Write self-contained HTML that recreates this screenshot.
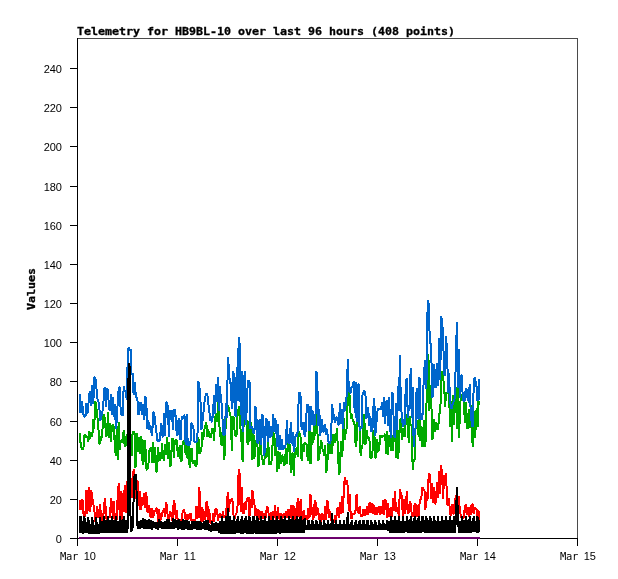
<!DOCTYPE html>
<html><head><meta charset="utf-8"><title>Telemetry for HB9BL-10</title>
<style>html,body{margin:0;padding:0;background:#fff;}body{width:618px;height:579px;overflow:hidden;}svg{display:block;}</style>
</head><body>
<svg width="618" height="579" viewBox="0 0 618 579">
<rect width="618" height="579" fill="#fff"/>
<g shape-rendering="crispEdges" stroke-width="1" fill="none">
<path d="M77.5 38.5H577.5V538" stroke="#4a4a4a"/>
<path d="M77.5 38V546M77 538.5H578" stroke="#000"/>
<path d="M70 538.5H77 M70 499.5H77 M70 460.5H77 M70 421.5H77 M70 381.5H77 M70 342.5H77 M70 303.5H77 M70 264.5H77 M70 225.5H77 M70 186.5H77 M70 146.5H77 M70 107.5H77 M70 68.5H77 M77.5 539V546 M177.5 539V546 M277.5 539V546 M377.5 539V546 M477.5 539V546 M577.5 539V546" stroke="#000"/>
</g>
<g fill="#000">
<text x="55.7" y="543" font-family="Liberation Sans, sans-serif" font-size="11">0</text>
<text x="49.7 55.7" y="504" font-family="Liberation Sans, sans-serif" font-size="11">20</text>
<text x="49.7 55.7" y="465" font-family="Liberation Sans, sans-serif" font-size="11">40</text>
<text x="49.7 55.7" y="426" font-family="Liberation Sans, sans-serif" font-size="11">60</text>
<text x="49.7 55.7" y="386" font-family="Liberation Sans, sans-serif" font-size="11">80</text>
<text x="43.7 49.7 55.7" y="347" font-family="Liberation Sans, sans-serif" font-size="11">100</text>
<text x="43.7 49.7 55.7" y="308" font-family="Liberation Sans, sans-serif" font-size="11">120</text>
<text x="43.7 49.7 55.7" y="269" font-family="Liberation Sans, sans-serif" font-size="11">140</text>
<text x="43.7 49.7 55.7" y="230" font-family="Liberation Sans, sans-serif" font-size="11">160</text>
<text x="43.7 49.7 55.7" y="191" font-family="Liberation Sans, sans-serif" font-size="11">180</text>
<text x="43.7 49.7 55.7" y="151" font-family="Liberation Sans, sans-serif" font-size="11">200</text>
<text x="43.7 49.7 55.7" y="112" font-family="Liberation Sans, sans-serif" font-size="11">220</text>
<text x="43.7 49.7 55.7" y="73" font-family="Liberation Sans, sans-serif" font-size="11">240</text>
<text y="560"><tspan x="60 66 72" font-family="DejaVu Sans Mono, monospace" font-size="10.5">Mar</tspan><tspan x="83.7 89.7" font-family="Liberation Sans, sans-serif" font-size="11">10</tspan></text>
<text y="560"><tspan x="160 166 172" font-family="DejaVu Sans Mono, monospace" font-size="10.5">Mar</tspan><tspan x="183.7 189.7" font-family="Liberation Sans, sans-serif" font-size="11">11</tspan></text>
<text y="560"><tspan x="260 266 272" font-family="DejaVu Sans Mono, monospace" font-size="10.5">Mar</tspan><tspan x="283.7 289.7" font-family="Liberation Sans, sans-serif" font-size="11">12</tspan></text>
<text y="560"><tspan x="360 366 372" font-family="DejaVu Sans Mono, monospace" font-size="10.5">Mar</tspan><tspan x="383.7 389.7" font-family="Liberation Sans, sans-serif" font-size="11">13</tspan></text>
<text y="560"><tspan x="460 466 472" font-family="DejaVu Sans Mono, monospace" font-size="10.5">Mar</tspan><tspan x="483.7 489.7" font-family="Liberation Sans, sans-serif" font-size="11">14</tspan></text>
<text y="560"><tspan x="560 566 572" font-family="DejaVu Sans Mono, monospace" font-size="10.5">Mar</tspan><tspan x="583.7 589.7" font-family="Liberation Sans, sans-serif" font-size="11">15</tspan></text>
</g>
<text x="77" y="35" font-family="DejaVu Sans Mono, Liberation Mono, monospace" font-weight="bold" font-size="10.5" stroke="#000" stroke-width="0.3" textLength="378" lengthAdjust="spacingAndGlyphs">Telemetry for HB9BL-10 over last 96 hours (408 points)</text>
<text transform="translate(35 310) rotate(-90)" x="0" y="0" font-family="DejaVu Sans Mono, Liberation Mono, monospace" font-weight="bold" font-size="10.5" stroke="#000" stroke-width="0.3" textLength="42" lengthAdjust="spacingAndGlyphs">Values</text>
<g fill="none" stroke-width="2" stroke-linejoin="bevel" shape-rendering="crispEdges">
<path d="M79 537.5H480" stroke="#720072" stroke-width="1"/><path d="M79 538.5H480" stroke="#660066" stroke-width="1"/>
<polyline points="79.5,432.6 80.5,442.4 81.5,448.1 82.4,449.6 83.4,448.5 84.4,435.0 85.4,435.2 86.4,437.9 87.4,436.9 88.3,442.3 89.3,431.2 90.3,438.8 91.3,432.2 92.3,436.9 93.3,419.2 94.2,428.7 95.2,401.0 96.2,405.1 97.2,416.0 98.2,423.3 99.2,443.5 100.1,443.8 101.1,436.9 102.1,437.1 103.1,417.4 104.1,414.0 105.1,421.1 106.0,436.4 107.0,435.5 108.0,411.6 109.0,437.7 110.0,422.8 110.9,441.8 111.9,425.6 112.9,424.5 113.9,427.6 114.9,448.3 115.9,455.5 116.8,425.6 117.8,459.6 118.8,422.0 119.8,449.8 120.8,440.5 121.8,440.0 122.7,443.2 123.7,429.6 124.7,446.7 125.7,445.2 126.7,433.8 127.7,443.8 128.6,425.0 129.6,445.1 130.6,433.8 131.6,456.4 132.6,433.3 133.6,431.3 134.5,433.0 135.5,467.7 136.5,432.6 137.5,447.6 138.5,451.4 139.5,437.3 140.4,453.6 141.4,435.8 142.4,460.9 143.4,464.6 144.4,439.9 145.3,443.4 146.3,468.4 147.3,470.0 148.3,466.8 149.3,450.2 150.3,448.9 151.2,446.9 152.2,463.2 153.2,441.8 154.2,462.6 155.2,446.8 156.2,472.0 157.1,471.4 158.1,447.1 159.1,459.1 160.1,460.1 161.1,457.4 162.1,443.5 163.0,457.4 164.0,460.8 165.0,444.0 166.0,454.9 167.0,436.6 168.0,458.6 168.9,442.5 169.9,466.6 170.9,465.3 171.9,440.0 172.9,437.9 173.8,457.8 174.8,440.0 175.8,440.5 176.8,440.0 177.8,454.8 178.8,457.1 179.7,444.8 180.7,461.5 181.7,460.0 182.7,442.0 183.7,440.8 184.7,442.4 185.6,454.6 186.6,445.6 187.6,459.0 188.6,442.5 189.6,467.6 190.6,460.9 191.5,448.3 192.5,460.8 193.5,463.3 194.5,460.5 195.5,465.8 196.5,465.9 197.4,440.1 198.4,437.3 199.4,454.0 200.4,452.6 201.4,449.3 202.4,432.5 203.3,439.4 204.3,429.7 205.3,426.1 206.3,421.8 207.3,436.5 208.2,429.4 209.2,436.1 210.2,437.9 211.2,435.9 212.2,428.3 213.2,428.9 214.1,440.8 215.1,418.8 216.1,413.0 217.1,422.1 218.1,400.0 219.1,424.5 220.0,430.8 221.0,443.9 222.0,446.0 223.0,418.9 224.0,459.8 225.0,452.5 225.9,411.6 226.9,402.8 227.9,406.2 228.9,408.2 229.9,414.0 230.9,417.0 231.8,451.0 232.8,416.6 233.8,417.1 234.8,435.0 235.8,436.5 236.7,434.9 237.7,411.9 238.7,408.2 239.7,406.0 240.7,434.5 241.7,444.2 242.6,461.5 243.6,424.4 244.6,415.0 245.6,415.2 246.6,421.0 247.6,445.2 248.5,421.4 249.5,441.7 250.5,421.8 251.5,430.5 252.5,459.8 253.5,434.4 254.4,458.8 255.4,440.9 256.4,440.1 257.4,444.5 258.4,466.7 259.4,457.6 260.3,439.0 261.3,454.3 262.3,458.5 263.3,465.0 264.3,463.4 265.2,444.5 266.2,456.8 267.2,456.4 268.2,439.0 269.2,465.2 270.2,462.6 271.1,464.3 272.1,455.7 273.1,431.5 274.1,434.4 275.1,456.1 276.1,437.7 277.0,471.5 278.0,451.3 279.0,469.4 280.0,452.1 281.0,463.7 282.0,454.8 282.9,456.5 283.9,466.0 284.9,463.6 285.9,447.9 286.9,463.8 287.9,444.0 288.8,441.8 289.8,445.7 290.8,472.6 291.8,453.6 292.8,453.0 293.8,476.4 294.7,453.2 295.7,452.0 296.7,447.5 297.7,457.2 298.7,431.5 299.6,433.0 300.6,437.3 301.6,460.8 302.6,444.0 303.6,452.3 304.6,441.9 305.5,444.8 306.5,443.4 307.5,456.6 308.5,460.6 309.5,429.7 310.5,464.3 311.4,446.4 312.4,432.5 313.4,442.6 314.4,421.3 315.4,435.6 316.4,412.5 317.3,426.0 318.3,460.8 319.3,455.0 320.3,448.2 321.3,439.9 322.3,448.8 323.2,450.5 324.2,455.6 325.2,444.7 326.2,472.9 327.2,467.9 328.1,444.7 329.1,441.9 330.1,454.0 331.1,431.7 332.1,453.7 333.1,435.2 334.0,434.2 335.0,443.2 336.0,439.3 337.0,428.0 338.0,453.4 339.0,474.6 339.9,471.2 340.9,440.8 341.9,456.6 342.9,447.1 343.9,418.4 344.9,440.0 345.8,431.0 346.8,428.1 347.8,396.5 348.8,390.6 349.8,397.5 350.8,419.3 351.7,414.6 352.7,419.7 353.7,422.0 354.7,425.0 355.7,447.0 356.6,440.5 357.6,419.1 358.6,415.9 359.6,427.2 360.6,455.6 361.6,447.9 362.5,445.1 363.5,414.2 364.5,422.5 365.5,444.5 366.5,430.4 367.5,436.2 368.4,438.4 369.4,438.4 370.4,457.4 371.4,459.0 372.4,453.3 373.4,430.4 374.3,431.4 375.3,458.3 376.3,456.2 377.3,439.4 378.3,452.0 379.3,447.8 380.2,435.7 381.2,436.1 382.2,436.9 383.2,436.1 384.2,436.1 385.2,433.7 386.1,453.7 387.1,431.4 388.1,455.1 389.1,436.0 390.1,435.6 391.0,451.0 392.0,434.7 393.0,450.6 394.0,433.0 395.0,425.5 396.0,457.8 396.9,416.2 397.9,459.4 398.9,449.0 399.9,418.7 400.9,422.2 401.9,439.8 402.8,427.9 403.8,435.5 404.8,436.7 405.8,420.4 406.8,414.9 407.8,415.0 408.7,443.4 409.7,416.2 410.7,425.7 411.7,425.1 412.7,470.0 413.7,460.5 414.6,459.8 415.6,426.0 416.6,422.9 417.6,420.5 418.6,436.7 419.5,416.2 420.5,441.2 421.5,426.3 422.5,446.5 423.5,444.6 424.5,419.6 425.4,447.0 426.4,406.7 427.4,371.6 428.4,353.6 429.4,411.4 430.4,384.6 431.3,400.6 432.3,440.0 433.3,433.5 434.3,419.1 435.3,431.5 436.3,424.0 437.2,423.1 438.2,429.5 439.2,413.1 440.2,414.1 441.2,383.1 442.2,370.9 443.1,377.5 444.1,385.1 445.1,406.6 446.1,393.3 447.1,392.6 448.1,390.8 449.0,388.8 450.0,427.4 451.0,401.5 452.0,442.2 453.0,394.6 453.9,425.1 454.9,394.8 455.9,386.7 456.9,429.3 457.9,377.4 458.9,437.8 459.8,417.7 460.8,394.4 461.8,395.0 462.8,394.0 463.8,394.6 464.8,423.3 465.7,402.2 466.7,426.0 467.7,429.2 468.7,409.5 469.7,428.0 470.7,406.2 471.6,405.5 472.6,446.5 473.6,411.3 474.6,438.1 475.6,429.7 476.6,408.2 477.5,427.3 478.5,401.1 479.5,405.2" stroke="#00aa00"/>
<polyline points="79.5,394.0 80.5,413.4 81.5,401.3 82.4,405.6 83.4,414.1 84.4,416.1 85.4,417.0 86.4,403.0 87.4,413.4 88.3,406.1 89.3,393.3 90.3,391.3 91.3,406.4 92.3,384.8 93.3,404.0 94.2,378.2 95.2,377.0 96.2,384.8 97.2,397.8 98.2,400.7 99.2,404.5 100.1,421.0 101.1,418.1 102.1,411.7 103.1,409.5 104.1,389.7 105.1,387.0 106.0,407.4 107.0,388.0 108.0,390.5 109.0,408.9 110.0,411.0 110.9,394.4 111.9,414.6 112.9,397.1 113.9,416.5 114.9,404.5 115.9,429.0 116.8,420.2 117.8,399.7 118.8,388.0 119.8,386.8 120.8,415.0 121.8,413.0 122.7,416.0 123.7,386.0 124.7,391.8 125.7,390.3 126.7,400.0 127.7,360.0 128.6,347.0 129.6,350.0 130.6,349.0 131.6,375.0 132.6,373.0 133.6,395.0 134.5,382.0 135.5,391.6 136.5,397.5 137.5,401.1 138.5,414.6 139.5,411.0 140.4,402.0 141.4,403.7 142.4,414.5 143.4,403.6 144.4,419.6 145.3,396.0 146.3,403.1 147.3,428.5 148.3,419.7 149.3,430.0 150.3,424.7 151.2,431.9 152.2,435.6 153.2,412.5 154.2,412.0 155.2,423.3 156.2,429.6 157.1,440.7 158.1,440.2 159.1,441.0 160.1,439.3 161.1,423.0 162.1,434.6 163.0,437.3 164.0,413.3 165.0,435.8 166.0,402.0 167.0,402.7 168.0,408.0 168.9,437.0 169.9,409.7 170.9,414.7 171.9,410.4 172.9,429.8 173.8,411.1 174.8,409.0 175.8,417.0 176.8,436.0 177.8,423.8 178.8,418.0 179.7,439.0 180.7,439.8 181.7,415.8 182.7,419.2 183.7,414.8 184.7,417.2 185.6,444.6 186.6,414.0 187.6,440.3 188.6,446.0 189.6,444.6 190.6,440.6 191.5,422.7 192.5,425.3 193.5,428.5 194.5,441.9 195.5,442.5 196.5,442.1 197.4,440.4 198.4,381.0 199.4,387.4 200.4,397.7 201.4,430.0 202.4,421.5 203.3,414.9 204.3,403.1 205.3,396.7 206.3,393.7 207.3,394.0 208.2,402.6 209.2,409.9 210.2,420.7 211.2,415.8 212.2,422.4 213.2,409.5 214.1,395.3 215.1,414.2 216.1,384.5 217.1,402.3 218.1,377.0 219.1,411.2 220.0,386.1 221.0,402.1 222.0,403.7 223.0,434.1 224.0,435.6 225.0,434.3 225.9,402.7 226.9,417.9 227.9,357.0 228.9,369.1 229.9,383.0 230.9,383.9 231.8,409.4 232.8,371.0 233.8,374.2 234.8,415.1 235.8,416.6 236.7,366.8 237.7,400.5 238.7,337.0 239.7,345.0 240.7,414.6 241.7,370.8 242.6,432.0 243.6,417.8 244.6,371.0 245.6,424.5 246.6,411.7 247.6,386.2 248.5,380.5 249.5,381.0 250.5,428.7 251.5,426.5 252.5,428.1 253.5,433.3 254.4,433.3 255.4,405.8 256.4,416.2 257.4,442.5 258.4,443.6 259.4,420.5 260.3,419.9 261.3,445.1 262.3,413.9 263.3,418.0 264.3,456.0 265.2,444.6 266.2,418.2 267.2,420.4 268.2,442.4 269.2,420.7 270.2,438.2 271.1,435.6 272.1,434.9 273.1,413.9 274.1,431.5 275.1,417.8 276.1,423.1 277.0,446.6 278.0,424.4 279.0,450.0 280.0,435.3 281.0,450.0 282.0,439.0 282.9,449.3 283.9,448.1 284.9,447.4 285.9,443.3 286.9,420.0 287.9,442.4 288.8,443.3 289.8,442.1 290.8,421.7 291.8,443.8 292.8,432.3 293.8,452.0 294.7,445.7 295.7,434.0 296.7,436.7 297.7,431.5 298.7,398.3 299.6,391.8 300.6,396.4 301.6,429.6 302.6,424.9 303.6,422.2 304.6,436.4 305.5,432.1 306.5,412.6 307.5,404.4 308.5,412.4 309.5,431.2 310.5,406.0 311.4,425.4 312.4,409.6 313.4,424.8 314.4,425.4 315.4,420.2 316.4,370.7 317.3,382.4 318.3,425.9 319.3,409.3 320.3,436.4 321.3,418.7 322.3,422.2 323.2,432.3 324.2,430.8 325.2,423.9 326.2,435.3 327.2,429.4 328.1,441.4 329.1,443.4 330.1,443.3 331.1,436.9 332.1,404.4 333.1,413.1 334.0,416.4 335.0,422.5 336.0,418.3 337.0,417.0 338.0,424.5 339.0,424.5 339.9,403.2 340.9,423.7 341.9,408.6 342.9,429.4 343.9,401.7 344.9,411.0 345.8,403.6 346.8,394.0 347.8,359.5 348.8,389.5 349.8,392.5 350.8,393.1 351.7,386.0 352.7,388.1 353.7,381.1 354.7,413.3 355.7,381.6 356.6,421.6 357.6,385.1 358.6,383.7 359.6,431.2 360.6,427.1 361.6,428.2 362.5,395.0 363.5,392.1 364.5,390.6 365.5,396.0 366.5,418.7 367.5,407.0 368.4,411.0 369.4,425.7 370.4,415.6 371.4,431.7 372.4,430.3 373.4,407.7 374.3,397.9 375.3,435.7 376.3,424.8 377.3,411.3 378.3,408.8 379.3,408.9 380.2,409.8 381.2,408.1 382.2,401.9 383.2,417.0 384.2,396.8 385.2,424.0 386.1,402.4 387.1,400.0 388.1,426.2 389.1,396.9 390.1,427.2 391.0,438.0 392.0,391.9 393.0,394.7 394.0,435.7 395.0,438.1 396.0,402.8 396.9,429.7 397.9,386.0 398.9,411.4 399.9,354.7 400.9,407.1 401.9,415.6 402.8,427.0 403.8,419.4 404.8,424.9 405.8,381.8 406.8,378.5 407.8,418.2 408.7,409.1 409.7,404.6 410.7,367.7 411.7,417.8 412.7,386.9 413.7,446.5 414.6,433.8 415.6,427.1 416.6,388.1 417.6,414.9 418.6,419.4 419.5,377.4 420.5,412.6 421.5,419.8 422.5,416.2 423.5,384.9 424.5,366.9 425.4,359.8 426.4,389.1 427.4,313.9 428.4,300.0 429.4,329.4 430.4,342.2 431.3,352.9 432.3,397.5 433.3,394.7 434.3,364.2 435.3,385.8 436.3,387.9 437.2,363.5 438.2,385.5 439.2,338.1 440.2,380.0 441.2,316.0 442.2,321.7 443.1,335.8 444.1,373.6 445.1,375.8 446.1,336.0 447.1,353.2 448.1,392.5 449.0,373.5 450.0,399.6 451.0,408.7 452.0,407.6 453.0,402.6 453.9,401.5 454.9,397.9 455.9,356.4 456.9,322.0 457.9,388.0 458.9,349.5 459.8,397.6 460.8,376.0 461.8,374.7 462.8,398.9 463.8,401.1 464.8,400.1 465.7,388.3 466.7,398.2 467.7,389.6 468.7,403.3 469.7,383.9 470.7,412.1 471.6,422.2 472.6,427.0 473.6,390.1 474.6,377.4 475.6,381.4 476.6,387.1 477.5,401.1 478.5,399.9 479.5,379.5" stroke="#0066cc"/>
<polyline points="79.5,510.3 80.5,500.5 81.5,510.3 82.4,498.8 83.4,513.1 84.4,516.7 85.4,513.8 86.4,490.3 87.4,513.6 88.3,491.1 89.3,487.2 90.3,512.0 91.3,490.1 92.3,497.2 93.3,504.1 94.2,507.9 95.2,522.0 96.2,521.6 97.2,505.8 98.2,517.4 99.2,516.9 100.1,504.2 101.1,517.9 102.1,520.0 103.1,520.3 104.1,504.4 105.1,498.5 106.0,515.6 107.0,521.6 108.0,520.0 109.0,516.5 110.0,517.7 110.9,498.5 111.9,503.3 112.9,519.0 113.9,501.5 114.9,519.9 115.9,516.3 116.8,520.0 117.8,491.8 118.8,483.2 119.8,520.8 120.8,490.9 121.8,520.0 122.7,493.0 123.7,511.6 124.7,484.8 125.7,512.6 126.7,504.3 127.7,476.6 128.6,490.0 129.6,459.0 130.6,480.0 131.6,498.0 132.6,490.0 133.6,469.0 134.5,480.0 135.5,476.0 136.5,499.0 137.5,480.3 138.5,506.2 139.5,491.1 140.4,510.3 141.4,506.9 142.4,497.2 143.4,505.1 144.4,492.6 145.3,507.9 146.3,492.0 147.3,511.8 148.3,511.6 149.3,505.5 150.3,516.1 151.2,517.4 152.2,508.4 153.2,518.3 154.2,510.5 155.2,510.9 156.2,508.5 157.1,508.3 158.1,521.6 159.1,509.2 160.1,518.9 161.1,520.2 162.1,512.3 163.0,512.6 164.0,508.1 165.0,517.0 166.0,501.8 167.0,506.3 168.0,521.6 168.9,519.8 169.9,512.3 170.9,511.9 171.9,520.6 172.9,516.3 173.8,500.2 174.8,504.1 175.8,519.2 176.8,510.2 177.8,520.6 178.8,519.6 179.7,521.1 180.7,521.0 181.7,519.4 182.7,511.4 183.7,509.9 184.7,512.3 185.6,520.0 186.6,513.7 187.6,520.0 188.6,514.2 189.6,518.6 190.6,512.7 191.5,520.8 192.5,521.4 193.5,518.9 194.5,521.6 195.5,519.7 196.5,505.7 197.4,518.8 198.4,512.6 199.4,487.2 200.4,517.1 201.4,523.2 202.4,507.3 203.3,520.9 204.3,510.7 205.3,520.0 206.3,503.0 207.3,501.8 208.2,520.0 209.2,509.0 210.2,522.4 211.2,523.2 212.2,523.0 213.2,512.8 214.1,522.1 215.1,510.3 216.1,508.3 217.1,510.5 218.1,520.6 219.1,514.5 220.0,513.7 221.0,515.4 222.0,520.1 223.0,511.5 224.0,517.6 225.0,517.0 225.9,516.7 226.9,501.9 227.9,492.0 228.9,512.1 229.9,499.4 230.9,500.7 231.8,498.5 232.8,502.8 233.8,519.3 234.8,518.3 235.8,513.6 236.7,513.0 237.7,504.1 238.7,469.4 239.7,474.1 240.7,512.2 241.7,487.4 242.6,513.0 243.6,513.5 244.6,502.2 245.6,509.9 246.6,500.7 247.6,498.0 248.5,496.9 249.5,516.7 250.5,499.4 251.5,508.3 252.5,490.5 253.5,499.2 254.4,503.4 255.4,516.4 256.4,507.8 257.4,520.0 258.4,509.3 259.4,519.5 260.3,511.2 261.3,520.2 262.3,510.9 263.3,518.9 264.3,513.6 265.2,521.6 266.2,511.1 267.2,506.6 268.2,509.1 269.2,520.4 270.2,520.2 271.1,512.5 272.1,521.6 273.1,511.4 274.1,518.1 275.1,505.0 276.1,519.5 277.0,515.9 278.0,506.7 279.0,518.0 280.0,519.0 281.0,512.7 282.0,518.0 282.9,517.3 283.9,512.9 284.9,517.8 285.9,511.5 286.9,517.6 287.9,509.6 288.8,518.3 289.8,517.6 290.8,505.2 291.8,518.7 292.8,505.0 293.8,506.6 294.7,520.0 295.7,507.6 296.7,516.4 297.7,498.5 298.7,515.6 299.6,516.6 300.6,499.4 301.6,517.6 302.6,520.2 303.6,510.6 304.6,521.6 305.5,514.8 306.5,519.3 307.5,518.8 308.5,508.1 309.5,518.0 310.5,494.5 311.4,514.8 312.4,506.7 313.4,520.0 314.4,504.7 315.4,500.2 316.4,515.5 317.3,507.6 318.3,511.4 319.3,520.1 320.3,514.5 321.3,521.6 322.3,512.9 323.2,519.2 324.2,520.6 325.2,505.7 326.2,519.8 327.2,500.2 328.1,502.4 329.1,517.8 330.1,511.3 331.1,519.9 332.1,520.5 333.1,523.2 334.0,522.3 335.0,515.4 336.0,521.9 337.0,510.3 338.0,507.0 339.0,517.8 339.9,502.1 340.9,514.0 341.9,495.9 342.9,513.2 343.9,488.1 344.9,477.5 345.8,484.4 346.8,480.0 347.8,486.6 348.8,511.1 349.8,493.7 350.8,518.6 351.7,518.3 352.7,513.7 353.7,513.9 354.7,513.2 355.7,509.7 356.6,493.7 357.6,511.7 358.6,513.3 359.6,506.1 360.6,514.4 361.6,516.7 362.5,516.3 363.5,509.3 364.5,515.2 365.5,514.7 366.5,508.9 367.5,506.5 368.4,514.7 369.4,503.4 370.4,502.4 371.4,512.7 372.4,503.1 373.4,513.9 374.3,505.0 375.3,514.5 376.3,507.3 377.3,514.4 378.3,508.1 379.3,506.1 380.2,515.4 381.2,506.3 382.2,513.7 383.2,500.5 384.2,515.2 385.2,499.3 386.1,501.0 387.1,518.0 388.1,503.0 389.1,515.8 390.1,516.8 391.0,507.1 392.0,517.0 393.0,497.6 394.0,511.0 395.0,490.9 396.0,512.2 396.9,507.8 397.9,510.8 398.9,515.5 399.9,488.8 400.9,494.3 401.9,495.4 402.8,516.0 403.8,499.1 404.8,513.5 405.8,508.7 406.8,490.8 407.8,512.5 408.7,513.2 409.7,501.5 410.7,503.2 411.7,514.2 412.7,516.1 413.7,515.3 414.6,503.9 415.6,503.9 416.6,516.7 417.6,504.8 418.6,516.3 419.5,504.0 420.5,499.4 421.5,495.9 422.5,486.9 423.5,488.8 424.5,490.7 425.4,510.3 426.4,492.4 427.4,501.4 428.4,479.8 429.4,473.3 430.4,480.3 431.3,499.0 432.3,482.7 433.3,502.5 434.3,487.1 435.3,504.4 436.3,498.0 437.2,482.0 438.2,498.3 439.2,470.8 440.2,494.1 441.2,465.5 442.2,475.9 443.1,499.2 444.1,475.4 445.1,477.3 446.1,473.3 447.1,504.6 448.1,505.9 449.0,497.9 450.0,513.2 451.0,516.0 452.0,503.6 453.0,514.1 453.9,513.5 454.9,498.5 455.9,507.9 456.9,486.9 457.9,511.9 458.9,495.7 459.8,510.2 460.8,515.6 461.8,518.0 462.8,517.0 463.8,518.3 464.8,507.3 465.7,504.4 466.7,515.0 467.7,507.6 468.7,516.5 469.7,507.3 470.7,515.4 471.6,504.4 472.6,504.5 473.6,513.6 474.6,507.4 475.6,508.8 476.6,509.1 477.5,516.6 478.5,510.6 479.5,520.0" stroke="#ff0000"/>
<polyline points="79.5,533.4 80.5,515.7 81.5,533.3 82.4,520.7 83.4,533.5 84.4,516.1 85.4,532.9 86.4,522.2 87.4,533.4 88.3,516.6 89.3,533.7 90.3,524.2 91.3,533.9 92.3,516.6 93.3,533.9 94.2,524.7 95.2,533.5 96.2,516.9 97.2,533.5 98.2,524.2 99.2,533.8 100.1,516.8 101.1,533.3 102.1,520.7 103.1,533.0 104.1,516.0 105.1,533.1 106.0,520.5 107.0,533.2 108.0,516.1 109.0,533.2 110.0,520.1 110.9,532.9 111.9,516.4 112.9,533.2 113.9,520.2 114.9,533.0 115.9,516.3 116.8,533.0 117.8,520.7 118.8,533.2 119.8,516.2 120.8,533.1 121.8,520.3 122.7,533.4 123.7,516.2 124.7,533.0 125.7,520.1 126.7,533.0 127.7,528.0 128.6,363.0 129.6,367.0 130.6,531.0 131.6,531.0 132.6,528.0 133.6,500.0 134.5,476.0 135.5,474.0 136.5,490.0 137.5,526.0 138.5,529.3 139.5,521.0 140.4,529.0 141.4,520.3 142.4,528.1 143.4,518.4 144.4,529.4 145.3,518.9 146.3,528.4 147.3,520.5 148.3,529.1 149.3,519.4 150.3,529.2 151.2,519.9 152.2,529.4 153.2,520.9 154.2,528.2 155.2,522.0 156.2,528.4 157.1,522.1 158.1,529.5 159.1,519.2 160.1,528.1 161.1,521.3 162.1,528.9 163.0,522.1 164.0,528.6 165.0,521.6 166.0,529.1 167.0,518.8 168.0,528.8 168.9,518.6 169.9,528.9 170.9,522.3 171.9,529.0 172.9,518.0 173.8,529.4 174.8,518.8 175.8,528.3 176.8,520.1 177.8,529.5 178.8,519.4 179.7,528.5 180.7,521.1 181.7,529.7 182.7,519.2 183.7,529.9 184.7,519.8 185.6,529.0 186.6,519.7 187.6,529.9 188.6,521.4 189.6,529.6 190.6,524.0 191.5,529.8 192.5,521.6 193.5,528.8 194.5,521.0 195.5,528.5 196.5,521.3 197.4,529.6 198.4,521.0 199.4,529.9 200.4,521.0 201.4,529.6 202.4,523.4 203.3,528.8 204.3,521.4 205.3,530.0 206.3,520.2 207.3,529.6 208.2,520.2 209.2,531.1 210.2,524.8 211.2,532.2 212.2,520.8 213.2,531.0 214.1,523.3 215.1,530.9 216.1,522.5 217.1,531.0 218.1,523.6 219.1,532.8 220.0,520.6 221.0,533.7 222.0,516.0 223.0,533.9 224.0,520.7 225.0,533.5 225.9,516.5 226.9,533.8 227.9,508.0 228.9,533.5 229.9,516.3 230.9,533.5 231.8,520.4 232.8,533.6 233.8,516.3 234.8,533.8 235.8,520.7 236.7,533.4 237.7,516.0 238.7,533.4 239.7,520.8 240.7,533.6 241.7,516.0 242.6,533.5 243.6,520.1 244.6,533.4 245.6,516.3 246.6,534.0 247.6,520.1 248.5,533.6 249.5,516.3 250.5,533.6 251.5,520.7 252.5,533.9 253.5,516.0 254.4,533.4 255.4,520.0 256.4,533.5 257.4,516.1 258.4,533.5 259.4,520.6 260.3,533.5 261.3,516.3 262.3,533.5 263.3,520.2 264.3,533.6 265.2,516.2 266.2,533.5 267.2,520.6 268.2,533.7 269.2,516.3 270.2,534.0 271.1,520.0 272.1,533.6 273.1,516.2 274.1,533.5 275.1,520.5 276.1,533.9 277.0,515.9 278.0,533.0 279.0,519.8 280.0,533.5 281.0,515.9 282.0,533.0 282.9,519.5 283.9,533.2 284.9,515.7 285.9,533.0 286.9,519.6 287.9,533.4 288.8,515.7 289.8,532.9 290.8,519.5 291.8,533.4 292.8,515.8 293.8,533.0 294.7,519.8 295.7,533.2 296.7,515.9 297.7,533.0 298.7,519.5 299.6,533.0 300.6,515.6 301.6,533.3 302.6,520.1 303.6,533.2 304.6,517.6 305.5,529.9 306.5,524.7 307.5,529.9 308.5,520.1 309.5,529.7 310.5,524.3 311.4,529.7 312.4,520.5 313.4,529.6 314.4,524.0 315.4,529.8 316.4,520.3 317.3,529.7 318.3,524.6 319.3,529.7 320.3,520.0 321.3,529.9 322.3,524.7 323.2,529.8 324.2,520.4 325.2,529.4 326.2,524.5 327.2,529.6 328.1,520.3 329.1,529.8 330.1,524.7 331.1,529.7 332.1,513.5 333.1,529.8 334.0,524.7 335.0,529.5 336.0,520.3 337.0,529.7 338.0,524.1 339.0,529.5 339.9,520.2 340.9,529.6 341.9,524.1 342.9,530.0 343.9,520.1 344.9,529.5 345.8,524.1 346.8,529.5 347.8,512.0 348.8,529.7 349.8,524.3 350.8,529.6 351.7,520.0 352.7,529.8 353.7,524.7 354.7,529.9 355.7,520.3 356.6,529.8 357.6,524.2 358.6,530.0 359.6,520.0 360.6,529.4 361.6,524.7 362.5,529.5 363.5,520.4 364.5,529.4 365.5,524.1 366.5,529.6 367.5,520.2 368.4,529.7 369.4,524.8 370.4,529.5 371.4,520.5 372.4,529.9 373.4,524.5 374.3,529.6 375.3,520.4 376.3,529.6 377.3,524.7 378.3,529.8 379.3,520.5 380.2,529.8 381.2,524.5 382.2,529.5 383.2,520.4 384.2,529.8 385.2,524.2 386.1,529.8 387.1,520.1 388.1,531.1 389.1,520.7 390.1,532.8 391.0,516.2 392.0,532.5 393.0,520.2 394.0,532.8 395.0,516.0 396.0,532.9 396.9,520.4 397.9,532.6 398.9,516.3 399.9,532.8 400.9,520.8 401.9,532.6 402.8,516.1 403.8,533.0 404.8,520.8 405.8,532.4 406.8,516.5 407.8,532.6 408.7,520.2 409.7,532.9 410.7,516.1 411.7,532.9 412.7,520.7 413.7,532.5 414.6,516.4 415.6,532.9 416.6,520.2 417.6,532.8 418.6,516.5 419.5,532.9 420.5,520.6 421.5,532.6 422.5,516.3 423.5,532.4 424.5,520.2 425.4,532.7 426.4,516.1 427.4,532.9 428.4,520.0 429.4,532.8 430.4,516.1 431.3,533.0 432.3,520.8 433.3,532.8 434.3,516.4 435.3,532.6 436.3,520.6 437.2,532.6 438.2,516.5 439.2,532.5 440.2,520.6 441.2,532.7 442.2,516.3 443.1,532.6 444.1,520.4 445.1,532.7 446.1,516.1 447.1,532.5 448.1,520.4 449.0,533.0 450.0,516.1 451.0,532.5 452.0,520.2 453.0,532.8 453.9,516.3 454.9,532.5 455.9,520.3 456.9,487.5 457.9,516.2 458.9,533.0 459.8,520.7 460.8,533.0 461.8,516.5 462.8,532.9 463.8,520.1 464.8,532.5 465.7,516.4 466.7,532.9 467.7,520.4 468.7,532.7 469.7,516.4 470.7,532.9 471.6,520.7 472.6,532.4 473.6,516.4 474.6,532.4 475.6,520.7 476.6,532.8 477.5,516.4 478.5,532.5 479.5,520.5" stroke="#000000"/>
</g>
</svg>
</body></html>
